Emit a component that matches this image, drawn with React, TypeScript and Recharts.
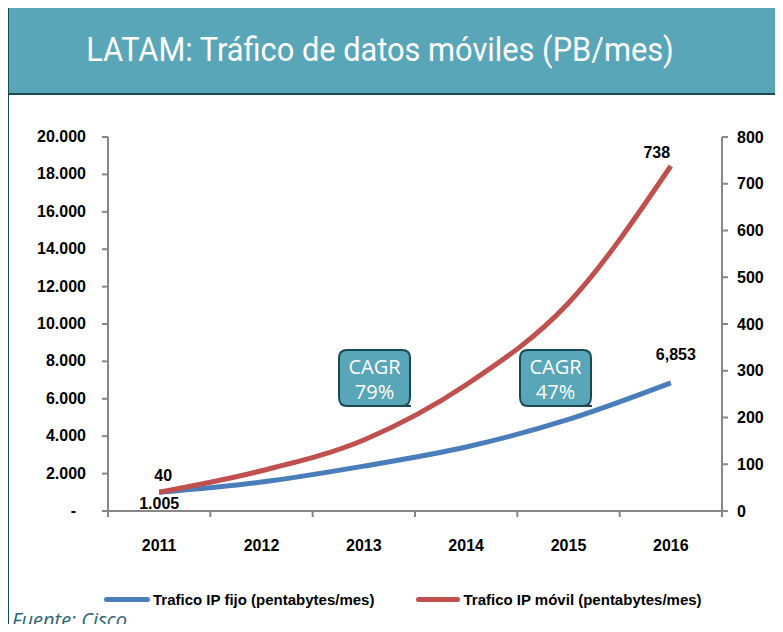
import { LineChart, Line, XAxis, YAxis, LabelList } from 'recharts';

const years = ['2011', '2012', '2013', '2014', '2015', '2016'];
const fijo = [1005, 1550, 2400, 3420, 4900, 6853];
const movil = [40, 86, 152, 270, 445, 738];
const leftTicks = [0, 2000, 4000, 6000, 8000, 10000, 12000, 14000, 16000, 18000, 20000];
const rightTicks = [0, 100, 200, 300, 400, 500, 600, 700, 800];

const data = years.map((year, i) => ({ year, fijo: fijo[i], movil: movil[i] }));

const W = 783;
const H = 632;
const PLOT_LEFT = 108;
const PLOT_RIGHT = 722;
const PLOT_BOTTOM = 511;
const BAND = (PLOT_RIGHT - PLOT_LEFT) / years.length;

const BLUE = '#4a7ebb';
const RED = '#c0504d';
const TEAL = '#59a6b9';
const DARK = '#174a57';
const AXIS = '#878787';
const TICK_FONT = { fontFamily: 'Liberation Sans, Arial, sans-serif', fontWeight: 700, fontSize: 16, fill: '#000' };

const fmt = (v: number) => String(v).replace(/\B(?=(\d{3})+(?!\d))/g, '.');

function LeftTick({ x, y, payload }: any) {
  const zero = payload.value === 0;
  return (
    <text x={zero ? x - 10 : x} y={y} dy={5} textAnchor="end" {...TICK_FONT}>
      {zero ? '-' : fmt(payload.value)}
    </text>
  );
}

function XTick({ x, payload, index }: any) {
  const left = x - BAND / 2;
  return (
    <g>
      <line x1={left} x2={left} y1={PLOT_BOTTOM} y2={PLOT_BOTTOM + 6} stroke={AXIS} strokeWidth={2} />
      {index === years.length - 1 && (
        <line x1={x + BAND / 2} x2={x + BAND / 2} y1={PLOT_BOTTOM} y2={PLOT_BOTTOM + 6} stroke={AXIS} strokeWidth={2} />
      )}
      <text x={x} y={PLOT_BOTTOM + 40} textAnchor="middle" {...TICK_FONT}>
        {payload.value}
      </text>
    </g>
  );
}

const FijoLabel = ({ x, y, value, index }: any) => {
  if (index === 0)
    return (
      <text x={x} y={y + 17} textAnchor="middle" {...TICK_FONT}>
        {fmt(value)}
      </text>
    );
  if (index === years.length - 1)
    return (
      <text x={x + 5} y={y - 23} textAnchor="middle" {...TICK_FONT}>
        {fmt(value).replace('.', ',')}
      </text>
    );
  return null;
};

const MovilLabel = ({ x, y, value, index }: any) => {
  if (index === 0)
    return (
      <text x={x + 4} y={y - 11} textAnchor="middle" {...TICK_FONT}>
        {value}
      </text>
    );
  if (index === years.length - 1)
    return (
      <text x={x - 14} y={y - 8} textAnchor="middle" {...TICK_FONT}>
        {value}
      </text>
    );
  return null;
};

function Bubble({ left, tailX, label }: { left: number; tailX: number; label: string }) {
  const w = 73;
  const h = 57;
  const r = 9;
  const tail = `L${tailX + 14},${h} L${tailX},${h + 10} L${tailX - 4},${h}`;
  const d = `M${r},1 H${w - r} Q${w - 1},1 ${w - 1},${r} V${h - r} Q${w - 1},${h} ${w - r},${h} ${tail} H${r} Q1,${h} 1,${h - r} V${r} Q1,1 ${r},1 Z`;
  const txt = {
    position: 'absolute' as const,
    left: 0,
    width: w,
    textAlign: 'center' as const,
    color: '#fff',
    fontFamily: 'Open Sans, sans-serif',
    fontSize: 20,
    lineHeight: '22px',
  };
  return (
    <div style={{ position: 'absolute', left, top: 349, width: w, height: h + 12 }}>
      <svg width={w} height={h + 12} style={{ position: 'absolute', left: 0, top: 0 }}>
        <path d={d} fill={TEAL} stroke={DARK} strokeWidth={2} />
      </svg>
      <div style={{ ...txt, top: 7 }}>CAGR</div>
      <div style={{ ...txt, top: 32 }}>{label}</div>
    </div>
  );
}

export default function App() {
  return (
    <div style={{ position: 'relative', width: W, height: H, margin: -8, overflow: 'hidden', background: '#fff' }}>
      {/* title banner */}
      <div
        style={{
          position: 'absolute',
          left: 7,
          top: 3,
          width: W,
          height: 88,
          background: TEAL,
          border: `2px solid ${DARK}`,
          boxSizing: 'content-box',
        }}
      />
      <div
        style={{
          position: 'absolute',
          left: 0,
          top: 3,
          width: 760,
          height: 92,
          lineHeight: '92px',
          textAlign: 'center',
          color: '#fff',
          fontFamily: 'Roboto, sans-serif',
          fontSize: 34,
          transform: 'scaleX(0.905)',
          transformOrigin: '380px 0',
          whiteSpace: 'nowrap',
        }}
      >
        LATAM: Tráfico de datos móviles (PB/mes)
      </div>
      <div style={{ position: 'absolute', left: 7, top: 93, width: 2, height: H - 93, background: DARK }} />

      <div style={{ position: 'absolute', left: 0, top: 0 }}>
        <LineChart width={W} height={H} data={data} margin={{ top: 137, right: 1, bottom: 81, left: 48 }}>
          <XAxis
            dataKey="year"
            scale="band"
            height={40}
            stroke={AXIS}
            strokeWidth={2}
            tickLine={false}
            tick={<XTick />}
            interval={0}
          />
          <YAxis
            yAxisId="left"
            width={60}
            domain={[0, 20000]}
            ticks={leftTicks}
            stroke={AXIS}
            strokeWidth={2}
            tickSize={6}
            tickMargin={16}
            tick={<LeftTick />}
            interval={0}
          />
          <YAxis
            yAxisId="right"
            orientation="right"
            width={60}
            domain={[0, 800]}
            ticks={rightTicks}
            stroke={AXIS}
            strokeWidth={2}
            tickSize={6}
            tickMargin={9}
            tick={{ ...TICK_FONT, textAnchor: 'start' }}
            interval={0}
          />
          <Line
            yAxisId="left"
            type="monotone"
            dataKey="fijo"
            stroke={BLUE}
            strokeWidth={5}
            dot={false}
            isAnimationActive={false}
          >
            <LabelList dataKey="fijo" content={<FijoLabel />} />
          </Line>
          <Line
            yAxisId="right"
            type="monotone"
            dataKey="movil"
            stroke={RED}
            strokeWidth={5}
            dot={false}
            isAnimationActive={false}
          >
            <LabelList dataKey="movil" content={<MovilLabel />} />
          </Line>
        </LineChart>
      </div>

      <Bubble left={338} tailX={385} label="79%" />
      <Bubble left={519} tailX={565} label="47%" />

      {/* legend */}
      <div
        style={{
          position: 'absolute',
          left: 104,
          top: 591,
          display: 'flex',
          alignItems: 'center',
          fontFamily: 'Liberation Sans, sans-serif',
          fontWeight: 700,
          fontSize: 15,
          color: '#000',
          whiteSpace: 'nowrap',
        }}
      >
        <span style={{ display: 'inline-block', width: 46, height: 5, borderRadius: 3, background: BLUE, marginRight: 3 }} />
        <span>Trafico IP fijo (pentabytes/mes)</span>
        <span style={{ display: 'inline-block', width: 44, height: 5, borderRadius: 3, background: RED, marginLeft: 42, marginRight: 3 }} />
        <span>Trafico IP móvil (pentabytes/mes)</span>
      </div>

      <div
        style={{
          position: 'absolute',
          left: 12,
          top: 607,
          fontFamily: 'Open Sans, sans-serif',
          fontStyle: 'italic',
          fontSize: 20,
          lineHeight: '26px',
          color: '#2a6676',
        }}
      >
        Fuente: Cisco
      </div>
    </div>
  );
}
